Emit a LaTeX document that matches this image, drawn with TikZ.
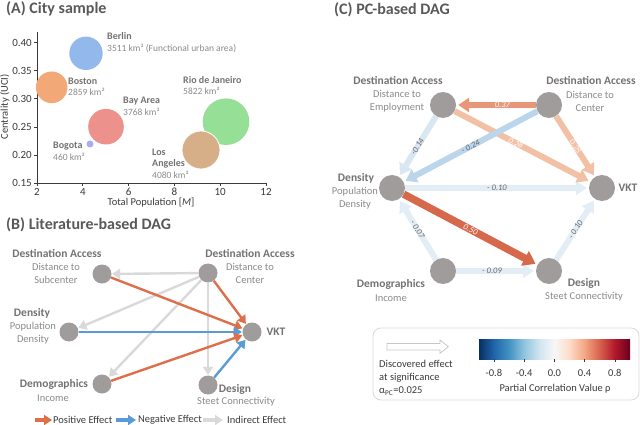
\documentclass[tikz,border=0pt]{standalone}
\usepackage{fontspec}
\setmainfont{Carlito}
\usetikzlibrary{arrows.meta,positioning}

\definecolor{titlegray}{HTML}{595959}
\definecolor{labgray}{HTML}{757171}
\definecolor{subgray}{HTML}{8A8A8A}
\definecolor{txtdark}{HTML}{3A3A3A}
\definecolor{dotgray}{HTML}{A09C9C}
\definecolor{posB}{HTML}{DD6F4B}
\definecolor{negB}{HTML}{5B9BD5}
\definecolor{indB}{HTML}{D9D9D9}
\definecolor{cberlin}{HTML}{93B8EB}
\definecolor{cboston}{HTML}{F2A877}
\definecolor{cbay}{HTML}{EC918B}
\definecolor{cbogota}{HTML}{ABABF3}
\definecolor{crio}{HTML}{96DF96}
\definecolor{cla}{HTML}{D6AF89}
\definecolor{r50}{HTML}{D6694B}
\definecolor{r37}{HTML}{E79777}
\definecolor{r28}{HTML}{F2C0A4}
\definecolor{b24}{HTML}{BBD6EA}
\definecolor{b14}{HTML}{D9E7F2}
\definecolor{b10}{HTML}{E2EDF5}
\definecolor{rb0}{HTML}{053061}
\definecolor{rb1}{HTML}{2166AC}
\definecolor{rb2}{HTML}{4393C3}
\definecolor{rb3}{HTML}{92C5DE}
\definecolor{rb4}{HTML}{D1E5F0}
\definecolor{rb5}{HTML}{F7F7F7}
\definecolor{rb6}{HTML}{FDDBC7}
\definecolor{rb7}{HTML}{F4A582}
\definecolor{rb8}{HTML}{D6604D}
\definecolor{rb9}{HTML}{B2182B}
\definecolor{rb10}{HTML}{67001F}
\pgfdeclarehorizontalshading{rdbu}{100bp}{color(0bp)=(rb0); color(25bp)=(rb0); color(30bp)=(rb1); color(35bp)=(rb2); color(40bp)=(rb3); color(45bp)=(rb4); color(50bp)=(rb5); color(55bp)=(rb6); color(60bp)=(rb7); color(65bp)=(rb8); color(70bp)=(rb9); color(75bp)=(rb10); color(100bp)=(rb10)}

\tikzset{
  paneltitle/.style={anchor=west, inner sep=0pt, text=titlegray, font=\bfseries\fontsize{16}{19}\selectfont},
  axisline/.style={draw=txtdark, line width=0.7pt},
  ticklab/.style={inner sep=0pt, text=txtdark, font=\fontsize{11}{13}\selectfont},
  axlab/.style={inner sep=0pt, text=txtdark, font=\fontsize{10.5}{13}\selectfont},
  city/.style={anchor=west, inner sep=0pt, text=labgray, font=\bfseries\fontsize{10}{12}\selectfont},
  area/.style={anchor=west, inner sep=0pt, text=subgray, font=\fontsize{9.5}{12}\selectfont},
  dotB/.style={circle, fill=dotgray, inner sep=0pt, minimum size=19pt},
  dotC/.style={circle, fill=dotgray, inner sep=0pt, minimum size=26pt},
  hd/.style={inner sep=0pt, text=labgray, font=\bfseries\fontsize{11.5}{13}\selectfont},
  sb/.style={inner sep=0pt, text=subgray, align=center, font=\fontsize{10.5}{13}\selectfont},
  bedge/.style={line width=2.4pt, -{Triangle[length=8pt,width=10pt]}, shorten >=0.5pt},
  posarr/.style={bedge, draw=posB, fill=posB},
  negarr/.style={bedge, draw=negB, fill=negB},
  indarr/.style={bedge, draw=indB, fill=indB},
  legarr/.style={line width=4pt, -{Triangle[length=8pt,width=10pt]}},
  legtxt/.style={inner sep=0pt, text=txtdark, font=\fontsize{10.5}{13.3}\selectfont},
  cedge/.style={line width=6pt, -{Triangle[length=11pt,width=14pt]}, shorten >=2pt},
  cedgeb/.style={cedge, line width=7.5pt, -{Triangle[length=12pt,width=16pt]}},
  wlab/.style={midway, sloped, inner sep=0pt, text=white, font=\itshape\fontsize{8.5}{10}\selectfont},
  glab/.style={midway, sloped, inner sep=0pt, text=labgray!90!black, font=\itshape\fontsize{8.5}{10}\selectfont}
}

\begin{document}
\begin{tikzpicture}[x=1pt,y=-1pt]
\useasboundingbox (0,0) rectangle (640,425);

% (A) city sample
\node[paneltitle] (ta) at (6,9) {(A) City sample};
\draw[axisline] (37,32) -- (37,183) -- (266,183);
\foreach \y/\t in {183/0.15,154.9/0.20,126.9/0.25,98.8/0.30,70.8/0.35,42.7/0.40}
  {\draw[axisline] (37,\y) -- (34,\y);
   \node[ticklab,anchor=east] at (32,\y) {\t};}
\foreach \x/\t in {37/2,82.8/4,128.6/6,174.4/8,220.2/10,266/12}
  {\draw[axisline] (\x,183) -- (\x,186);
   \node[ticklab] at (\x,192) {\t};}
\node[axlab,rotate=90] (ylab) at (5,107) {Centrality (UCI)};
\node[axlab] (xlab) at (151,203) {Total Population [\textit{M}]};

\fill[cberlin] (86,53.3) circle (16.7pt);
\fill[cboston] (51.7,87.3) circle (15.8pt);
\fill[cbay] (106,126.7) circle (17.8pt);
\fill[cbogota] (90,144) circle (3.5pt);
\fill[crio] (226,121.7) circle (23.3pt);
\filldraw[fill=cla, draw=white, line width=0.8pt] (201,150) circle (19pt);

\node[city] (berlin) at (107,36) {Berlin};
\node[area] (berlinkm) at (107,48) {3511 km² (Functional urban area)};
\node[city] (boston) at (68,81) {Boston};
\node[area] (bostonkm) at (68,92) {2859 km²};
\node[city] (bay) at (123,101) {Bay Area};
\node[area] (baykm) at (123,112) {3768 km²};
\node[city] (bogota) at (53,146) {Bogota};
\node[area] (bogotakm) at (53,157) {460 km²};
\node[city] (rio) at (183,80) {Rio de Janeiro};
\node[area] (riokm) at (183,91) {5822 km²};
\node[city] (los) at (152,152) {Los};
\node[city] (angeles) at (152,164) {Angeles};
\node[area] (lakm) at (152,175) {4080 km²};

% (B) literature-based DAG
\node[paneltitle] (tb) at (6,225) {(B) Literature-based DAG};
\node[dotB] (bsub) at (102,274) {};
\node[dotB] (bcen) at (208,273) {};
\node[dotB] (bdens) at (69,332) {};
\node[dotB] (bvkt) at (252,332) {};
\node[dotB] (bdemo) at (102,384) {};
\node[dotB] (bdes) at (208,385) {};

\node[hd] (bsubhd) at (57,253) {Destination Access};
\node[sb] (bsubsb) at (56,273.5) {Distance to\\Subcenter};
\node[hd] (bcenhd) at (250,253) {Destination Access};
\node[sb] (bcensb) at (250,273.5) {Distance to\\Center};
\node[hd] (bdenshd) at (32,313) {Density};
\node[sb] (bdenssb) at (33,333.5) {Population\\Density};
\node[hd] (bvkthd) at (276,332) {VKT};
\node[hd] (bdemohd) at (54,384) {Demographics};
\node[sb] (bdemosb) at (53,398) {Income};
\node[hd] (bdeshd) at (235,389) {Design};
\node[sb] (bdessb) at (236,402) {Steet Connectivity};

\draw[indarr] (bcen) -- (bsub);
\draw[indarr] (bcen) -- (bdens);
\draw[indarr] (bcen) -- (bdemo);
\draw[indarr] (bcen) -- (bdes);
\draw[posarr] (bsub) -- (bvkt);
\draw[posarr] (bcen) -- (bvkt);
\draw[negarr] (bdens) -- (bvkt);
\draw[posarr] (bdemo) -- (bvkt);
\draw[negarr] (bdes) -- (bvkt);

% legend (B)
\coordinate (lpos) at (35,420);
\coordinate (lneg) at (116,420);
\coordinate (lind) at (203,420);
\node[legtxt,anchor=west] (tpos) at (53,420) {Positive Effect};
\node[legtxt,anchor=west] (tneg) at (138,420) {Negative Effect};
\node[legtxt,anchor=west] (tind) at (227,420) {Indirect Effect};
\draw[legarr,posB] (lpos) -- ([xshift=-1pt]tpos.west);
\draw[legarr,negB] (lneg) -- ([xshift=-2pt]tneg.west);
\draw[legarr,indB] (lind) -- ([xshift=-4pt]tind.west);

% (C) PC-based DAG
\node[paneltitle] (tc) at (334,10) {(C) PC-based DAG};
\node[dotC] (cemp) at (443,105) {};
\node[dotC] (ccen) at (549,105) {};
\node[dotC] (cdens) at (392,188) {};
\node[dotC] (cvkt) at (602,188) {};
\node[dotC] (cdemo) at (443,271) {};
\node[dotC] (cdes) at (549,271) {};

\node[hd] (cemphd) at (398,81) {Destination Access};
\node[sb] (cempsb) at (397,101.5) {Distance to\\Employment};
\node[hd] (ccenhd) at (591,81) {Destination Access};
\node[sb] (ccensb) at (590,101.5) {Distance to\\Center};
\node[hd] (cdenshd) at (356,178) {Density};
\node[sb] (cdenssb) at (355,198) {Population\\Density};
\node[hd] (cvkthd) at (628,188) {VKT};
\node[hd] (cdemohd) at (391,284) {Demographics};
\node[sb] (cdemosb) at (391,298) {Income};
\node[hd] (cdeshd) at (584,283) {Design};
\node[sb] (cdessb) at (584,297) {Steet Connectivity};

\draw[cedge,b10] (cdens) -- node[glab] {- 0.10} (cvkt);
\draw[cedge,b10] (cdemo) -- node[glab] {- 0.07} (cdens);
\draw[cedge,b10] (cdemo) -- node[glab,pos=0.45] {- 0.09} (cdes);
\draw[cedge,b10] (cdes) -- node[glab] {- 0.10} (cvkt);
\draw[cedge,b14] (cemp) -- node[glab] {-0.14} (cdens);
\draw[cedge,r28] (cemp) -- node[wlab,pos=0.45] {0.28} (cvkt);
\draw[cedge,b24] (ccen) -- node[glab] {- 0.24} (cdens);
\draw[cedge,r28] (ccen) -- node[wlab] {0.25} (cvkt);
\draw[cedge,r37] (ccen) -- node[wlab,pos=0.42] {0.37} (cemp);
\draw[cedgeb,r50] (cdens) -- node[wlab] {0.50} (cdes);

% legend (C)
\draw[draw=indB, line width=0.8pt, rounded corners=8pt] (373,328) rectangle (639,400);
\draw[draw=indB!80!gray, line width=0.8pt, fill=white] (387,343.5) -- (440,343.5) -- (440,340) -- (448.3,346.7) -- (440,353.3) -- (440,350) -- (387,350) -- cycle;
\node[legtxt,anchor=west,align=left] (disc) at (379,377.5) {Discovered effect\\at significance\\α\textsubscript{PC}=0.025};
\shade[shading=rdbu] (479,339.3) rectangle (630,359);
\foreach \v in {-0.8,-0.4,0.0,0.4,0.8}
  {\draw[axisline] ({554.4+75.6*\v},359) -- ({554.4+75.6*\v},362);
   \node[legtxt] at ({554.4+75.6*\v},373.3) {\v};}
\node[legtxt] (cblab) at (555,388.3) {Partial Correlation Value ρ};
\end{tikzpicture}
\end{document}
